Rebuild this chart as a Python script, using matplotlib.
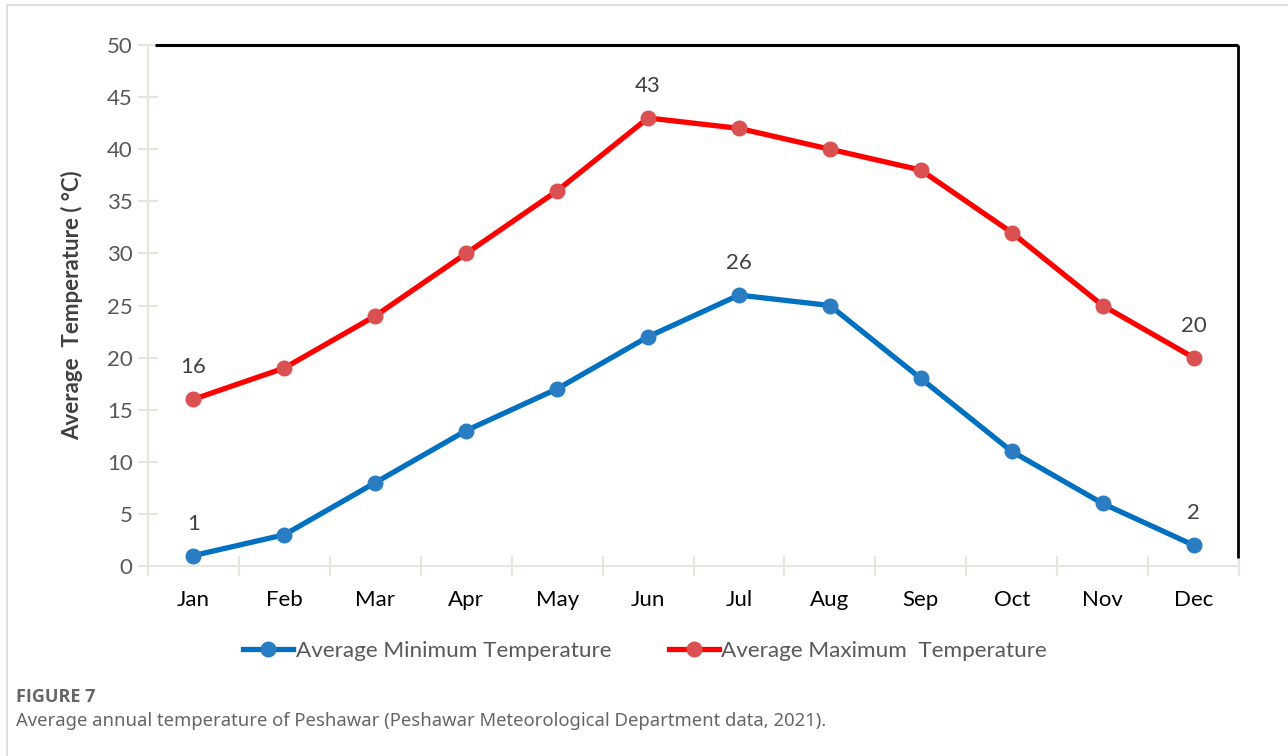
import matplotlib
matplotlib.use("Agg")
import matplotlib.pyplot as plt
from matplotlib.lines import Line2D
from matplotlib.patches import Rectangle

months = ["Jan", "Feb", "Mar", "Apr", "May", "Jun", "Jul", "Aug", "Sep", "Oct", "Nov", "Dec"]
min_temp = [1, 3, 8, 13, 17, 22, 26, 25, 18, 11, 6, 2]
max_temp = [16, 19, 24, 30, 36, 43, 42, 40, 38, 32, 25, 20]
min_label_idx = [0, 6, 11]
max_label_idx = [0, 5, 11]
yticks = [0, 5, 10, 15, 20, 25, 30, 35, 40, 45, 50]
min_name = "Average Minimum Temperature"
max_name = "Average Maximum  Temperature"
ylabel = "Average  Temperature ( °C)"
fig_label = "FIGURE 7"
caption = "Average annual temperature of Peshawar (Peshawar Meteorological Department data, 2021)."

plt.rcParams['font.family'] = ['Lato', 'DejaVu Sans']

W, H = 1288, 756
fig = plt.figure(figsize=(W / 100, H / 100), dpi=100)

# outer light frame
fig.patches.append(Rectangle((7 / W, -0.1), 1.2, 1 - 5 / H + 0.1, transform=fig.transFigure,
                             fill=False, edgecolor="#d9d9d9", linewidth=1.2))

ax = fig.add_axes([148 / W, 1 - 566 / H, (1239 - 148) / W, (566 - 45) / H])
x = list(range(len(months)))
ax.set_xlim(-0.5, len(months) - 0.5)
ax.set_ylim(0, 50)

blue_line = "#0070C0"
blue_mk = "#2A7DC2"
red_line = "#FF0000"
red_mk = "#DB5050"

ax.plot(x, min_temp, color=blue_line, lw=3.8, marker="o", ms=10.5,
        markerfacecolor=blue_mk, markeredgecolor=blue_mk, zorder=3, solid_capstyle="round")
ax.plot(x, max_temp, color=red_line, lw=3.8, marker="o", ms=10.5,
        markerfacecolor=red_mk, markeredgecolor=red_mk, zorder=3, solid_capstyle="round")

fs = 16
for i in min_label_idx:
    ax.annotate(str(min_temp[i]), (x[i], min_temp[i]), xytext=(0, 23), textcoords="offset points",
                ha="center", va="center", fontsize=fs, color="#404040")
for i in max_label_idx:
    ax.annotate(str(max_temp[i]), (x[i], max_temp[i]), xytext=(0, 23), textcoords="offset points",
                ha="center", va="center", fontsize=fs, color="#404040")

# spines
axis_col = "#E8E5DA"
for s in ["top", "right"]:
    ax.spines[s].set_visible(False)
ax.spines["left"].set_color(axis_col)
ax.spines["bottom"].set_color(axis_col)
ax.spines["left"].set_linewidth(1.5)
ax.spines["bottom"].set_linewidth(1.5)
# black frame top and right
ax.plot([7 / (1239 - 148), 1.0 - 1 / (1239 - 148)], [1, 1], transform=ax.transAxes, color="black",
        lw=2.2, clip_on=False, solid_capstyle="butt", zorder=4)
ax.plot([1.0 - 1 / (1239 - 148), 1.0 - 1 / (1239 - 148)], [1, 8 / (566 - 45)], transform=ax.transAxes,
        color="black", lw=2.0, clip_on=False, solid_capstyle="butt", zorder=4)

ax.set_yticks(yticks)
ax.set_yticklabels([str(v) for v in yticks])
ax.tick_params(axis="y", direction="inout", length=14, width=1.5, color=axis_col,
               labelsize=fs, labelcolor="#595959", pad=4)
ax.set_xticks([i - 0.5 for i in range(len(months) + 1)], minor=False)
ax.set_xticklabels([""] * (len(months) + 1))
ax.tick_params(axis="x", which="major", direction="inout", length=14, width=1.5, color=axis_col)
ax.set_xticks(x, minor=True)
ax.set_xticklabels(months, minor=True)
ax.tick_params(axis="x", which="minor", length=0, labelsize=fs, labelcolor="black", pad=17)

ax.set_ylabel(ylabel, fontsize=16, fontweight="bold", color="#404040", labelpad=17)

handles = [
    Line2D([], [], color=blue_line, lw=3.8, marker="o", ms=10.5, markerfacecolor=blue_mk, markeredgecolor=blue_mk),
    Line2D([], [], color=red_line, lw=3.8, marker="o", ms=10.5, markerfacecolor=red_mk, markeredgecolor=red_mk),
]
fig.legend(handles, [min_name, max_name], loc="center", bbox_to_anchor=(645 / W, 1 - 651 / H),
           ncol=2, frameon=False, fontsize=16.2, labelcolor="#595959", handlelength=2.25,
           handletextpad=0.1, columnspacing=2.55)

fig.text(16 / W, 1 - 697 / H, fig_label, fontsize=13, fontweight="bold", color="#666666",
         ha="left", va="center", family=["Open Sans", "DejaVu Sans"])
fig.text(16 / W, 1 - 721 / H, caption, fontsize=13.3, color="#666666",
         ha="left", va="center", family=["Noto Sans", "DejaVu Sans"])

fig.savefig("out.png", dpi=100, facecolor="white")
